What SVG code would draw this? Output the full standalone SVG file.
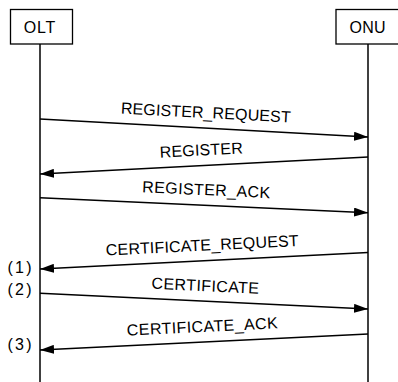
<svg xmlns="http://www.w3.org/2000/svg" width="398" height="382" viewBox="0 0 398 382">
<defs>
<style>
.box{fill:#fff;stroke:#000;stroke-width:1.3}
.life{stroke:#000;stroke-width:1.5;fill:none}
.msg{stroke:#000;stroke-width:1.4;fill:none;marker-end:url(#ah)}
text{font-family:"Liberation Sans",Arial,sans-serif;fill:#000}
.name{font-size:16px;text-anchor:middle}
.lbl{font-size:16px;text-anchor:middle}
.num{font-size:16px;text-anchor:middle}
</style>
<marker id="ah" markerUnits="userSpaceOnUse" markerWidth="14" markerHeight="9" refX="14" refY="4.5" orient="auto">
<path d="M0,0 L14,4.5 L0,9 z" fill="#000"/>
</marker>
</defs>
<rect width="398" height="382" fill="#fff"/>
<g id="olt">
<rect class="box" x="10.5" y="9.5" width="62" height="34.5"/>
<text class="name" x="39.5" y="33.3" textLength="31.5">OLT</text>
<line class="life" x1="40" y1="44" x2="40" y2="382"/>
</g>
<g id="onu">
<rect class="box" x="336" y="9.5" width="70" height="34.5"/>
<text class="name" x="367.5" y="33.3" textLength="36">ONU</text>
<line class="life" x1="368" y1="44" x2="368" y2="382"/>
</g>
<g id="connectors">
<line class="msg" x1="40" y1="119" x2="368" y2="137"/>
<line class="msg" x1="368" y1="157" x2="40" y2="174"/>
<line class="msg" x1="40" y1="197.7" x2="368" y2="212.7"/>
<line class="msg" x1="368" y1="252.5" x2="40" y2="269"/>
<line class="msg" x1="40" y1="293.3" x2="368" y2="309"/>
<line class="msg" x1="368" y1="334" x2="40" y2="350"/>
</g>
<g id="labels">
<text class="lbl" transform="translate(205,128) rotate(3.0)" x="0" y="-10" textLength="170">REGISTER_REQUEST</text>
<text class="lbl" transform="translate(202,165.5) rotate(-2.97)" x="0" y="-10" textLength="83">REGISTER</text>
<text class="lbl" transform="translate(205.5,205.2) rotate(2.62)" x="0" y="-10" textLength="128">REGISTER_ACK</text>
<text class="lbl" transform="translate(203,260.75) rotate(-2.85)" x="0" y="-10" textLength="193">CERTIFICATE_REQUEST</text>
<text class="lbl" transform="translate(204.5,301.15) rotate(2.74)" x="0" y="-10" textLength="107.6">CERTIFICATE</text>
<text class="lbl" transform="translate(203,342) rotate(-2.8)" x="0" y="-10" textLength="151">CERTIFICATE_ACK</text>
</g>
<g id="markers">
<text class="num" x="19.5" y="273.3" textLength="24">(1)</text>
<text class="num" x="19.5" y="295" textLength="24">(2)</text>
<text class="num" x="19.5" y="349.6" textLength="24">(3)</text>
</g>
</svg>
